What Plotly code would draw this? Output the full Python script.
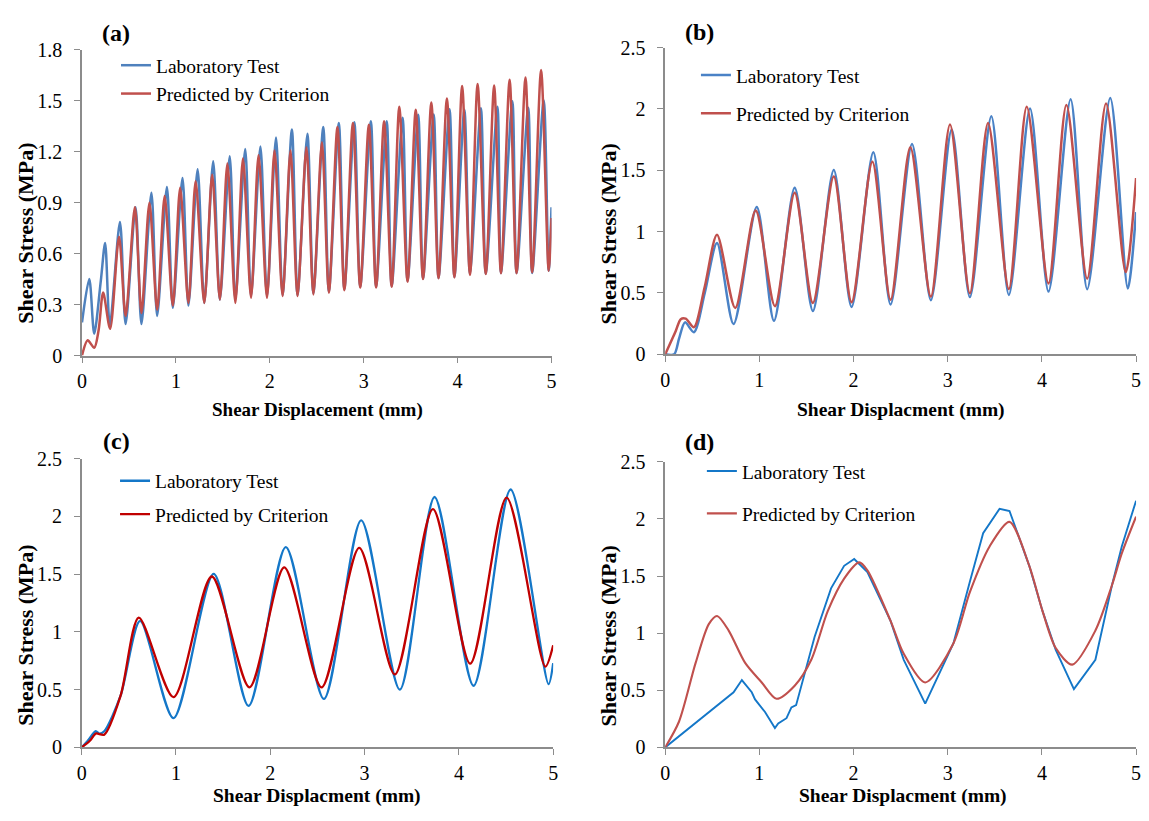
import plotly.graph_objects as go

# ---------------- data ----------------
# (a)
a_lab_x = [0.00, 0.077, 0.13, 0.20, 0.246, 0.296, 0.404, 0.464, 0.570, 0.633, 0.739, 0.800, 0.904, 0.967,
           1.070, 1.133, 1.231, 1.302, 1.397, 1.468, 1.573, 1.633, 1.738, 1.800, 1.900, 1.970, 2.066, 2.136,
           2.235, 2.295, 2.400, 2.464, 2.569, 2.629, 2.735, 2.794, 2.900, 2.963, 3.076, 3.132, 3.245, 3.298,
           3.414, 3.467, 3.580, 3.632, 3.745, 3.797, 3.914, 3.966, 4.072, 4.132, 4.248, 4.300, 4.424, 4.462,
           4.583, 4.628, 4.752, 4.794, 4.917, 4.970, 5.000]
a_lab_y = [0.195, 0.45, 0.128, 0.44, 0.663, 0.176, 0.787, 0.185, 0.873, 0.185, 0.959, 0.233, 0.992, 0.281,
           1.045, 0.294, 1.097, 0.31, 1.145, 0.329, 1.174, 0.329, 1.217, 0.35, 1.231, 0.35, 1.284, 0.357,
           1.332, 0.357, 1.307, 0.367, 1.346, 0.377, 1.37, 0.39, 1.374, 0.405, 1.38, 0.405, 1.38, 0.409,
           1.40, 0.44, 1.418, 0.453, 1.42, 0.457, 1.45, 0.463, 1.447, 0.482, 1.456, 0.482, 1.466, 0.486,
           1.498, 0.486, 1.46, 0.486, 1.504, 0.50, 0.873]
a_pred_x = [0.00, 0.06, 0.13, 0.176, 0.225, 0.299, 0.394, 0.464, 0.563, 0.633, 0.718, 0.80, 0.88, 0.967,
            1.045, 1.133, 1.21, 1.302, 1.386, 1.468, 1.548, 1.633, 1.714, 1.80, 1.88, 1.97, 2.05, 2.136,
            2.22, 2.295, 2.39, 2.464, 2.555, 2.629, 2.72, 2.794, 2.885, 2.963, 3.055, 3.132, 3.217, 3.298,
            3.379, 3.467, 3.554, 3.632, 3.72, 3.797, 3.886, 3.966, 4.048, 4.132, 4.213, 4.30, 4.389, 4.462,
            4.554, 4.628, 4.723, 4.794, 4.889, 4.97, 5.0]
a_pred_y = [0.0, 0.09, 0.046, 0.147, 0.371, 0.157, 0.70, 0.233, 0.873, 0.25, 0.90, 0.27, 0.94, 0.294,
            0.988, 0.31, 1.026, 0.31, 1.065, 0.33, 1.131, 0.31, 1.16, 0.34, 1.18, 0.34, 1.208, 0.35,
            1.208, 0.35, 1.227, 0.36, 1.256, 0.37, 1.346, 0.385, 1.37, 0.40, 1.36, 0.40, 1.38, 0.405,
            1.466, 0.435, 1.447, 0.45, 1.49, 0.455, 1.514, 0.46, 1.587, 0.475, 1.60, 0.48, 1.59, 0.485,
            1.624, 0.485, 1.638, 0.49, 1.682, 0.50, 0.81]

# (b)
b_lab_x = [0, 0.095, 0.147, 0.21, 0.305, 0.42, 0.55, 0.726, 0.972, 1.155, 1.375, 1.568, 1.79, 1.979, 2.21,
           2.393, 2.621, 2.821, 3.042, 3.235, 3.463, 3.649, 3.874, 4.07, 4.305, 4.481, 4.726, 4.912, 5.0]
b_lab_y = [0, 0, 0.127, 0.26, 0.18, 0.5, 0.907, 0.246, 1.2, 0.273, 1.357, 0.352, 1.503, 0.386, 1.648,
           0.405, 1.714, 0.44, 1.833, 0.466, 1.94, 0.484, 2.005, 0.511, 2.08, 0.53, 2.09, 0.537, 1.159]
b_pred_x = [0, 0.112, 0.165, 0.218, 0.305, 0.42, 0.55, 0.744, 0.961, 1.165, 1.375, 1.568, 1.79, 1.979, 2.2,
            2.393, 2.603, 2.821, 3.024, 3.235, 3.428, 3.649, 3.839, 4.07, 4.26, 4.481, 4.681, 4.89, 5.0]
b_pred_y = [0, 0.19, 0.286, 0.29, 0.22, 0.55, 0.974, 0.378, 1.172, 0.392, 1.317, 0.418, 1.45, 0.424, 1.569,
            0.444, 1.688, 0.47, 1.873, 0.497, 1.886, 0.532, 2.019, 0.577, 2.032, 0.617, 2.045, 0.67, 1.437]

# (c)
c_lab_x = [0, 0.063, 0.15, 0.185, 0.24, 0.414, 0.62, 0.974, 1.40, 1.77, 2.165, 2.569, 2.964, 3.374,
           3.742, 4.156, 4.548, 4.951, 5.0]
c_lab_y = [0, 0.056, 0.14, 0.12, 0.14, 0.45, 1.095, 0.253, 1.503, 0.36, 1.735, 0.42, 1.966, 0.50,
           2.168, 0.534, 2.233, 0.548, 0.73]
c_pred_x = [0, 0.09, 0.15, 0.24, 0.414, 0.606, 0.974, 1.38, 1.78, 2.148, 2.544, 2.943, 3.321, 3.725,
            4.12, 4.506, 4.916, 5.0]
c_pred_y = [0, 0.06, 0.12, 0.11, 0.45, 1.124, 0.435, 1.48, 0.52, 1.558, 0.52, 1.727, 0.632, 2.064,
            0.725, 2.163, 0.70, 0.885]

# (d)
d_lab_x = [0, 0.726, 0.814, 0.919, 0.954, 1.06, 1.165, 1.2, 1.288, 1.34, 1.39, 1.481, 1.586, 1.761, 1.90,
           2.007, 2.147, 2.393, 2.533, 2.761, 3.06, 3.235, 3.376, 3.551, 3.656, 3.866, 4.007, 4.147, 4.34,
           4.568, 4.744, 4.849, 5.0]
d_lab_y = [0, 0.483, 0.59, 0.483, 0.42, 0.31, 0.17, 0.21, 0.256, 0.35, 0.37, 0.654, 0.967, 1.393, 1.59,
           1.65, 1.535, 1.108, 0.767, 0.384, 0.91, 1.45, 1.876, 2.09, 2.07, 1.59, 1.193, 0.853, 0.511,
           0.767, 1.42, 1.762, 2.16]
d_pred_x = [0, 0.147, 0.323, 0.463, 0.551, 0.674, 0.849, 1.025, 1.182, 1.375, 1.551, 1.726, 1.90, 2.06,
            2.147, 2.393, 2.533, 2.761, 3.06, 3.235, 3.446, 3.656, 3.866, 4.007, 4.147, 4.323, 4.568,
            4.744, 4.849, 5.0]
d_pred_y = [0, 0.227, 0.74, 1.08, 1.151, 1.023, 0.74, 0.569, 0.426, 0.54, 0.767, 1.193, 1.478, 1.62,
            1.55, 1.108, 0.82, 0.569, 0.91, 1.36, 1.762, 1.975, 1.59, 1.193, 0.87, 0.725, 1.023,
            1.42, 1.70, 2.02]

series_names = ["Laboratory Test", "Predicted by Criterion"]
panel_labels = ["(a)", "(b)", "(c)", "(d)"]
x_titles = ["Shear Displacement (mm)", "Shear Displacment (mm)", "Shear Displacment (mm)", "Shear Displacment (mm)"]
y_title = "Shear Stress (MPa)"

# ---------------- figure ----------------
W, H = 1149, 821
def fx(px): return px / W
def fy(py): return 1 - py / H

SERIF = "Liberation Serif, Times New Roman, serif"

panels = [
    dict(lab=(a_lab_x, a_lab_y), pred=(a_pred_x, a_pred_y), dom=((77.7, 551.3), (40, 354)),
         yr=[0, 1.8], dt=0.3, colors=("#4f81bd", "#c0504d"), lw=(2.5, 2.5), shape=("spline", "spline"),
         leg=(112, 36), gap=0, xt=(315, 410, 19), yt=(21, 228), pl=(112, 23)),
    dict(lab=(b_lab_x, b_lab_y), pred=(b_pred_x, b_pred_y), dom=((666, 1141), (37.7, 352.7)),
         yr=[0, 2.5], dt=0.5, colors=("#4a82c6", "#c0504d"), lw=(2.5, 2.5), shape=("spline", "spline"),
         leg=(697, 46), gap=10, xt=(904, 410, 19.5), yt=(609, 229), pl=(701, 22)),
    dict(lab=(c_lab_x, c_lab_y), pred=(c_pred_x, c_pred_y), dom=((77.3, 553), (460, 756.7)),
         yr=[0, 2.5], dt=0.5, colors=("#1477c8", "#c00000"), lw=(2.3, 2.3), shape=("spline", "spline"),
         leg=(111, 463), gap=5, xt=(315, 807, 19.5), yt=(21, 641), pl=(112, 442)),
    dict(lab=(d_lab_x, d_lab_y), pred=(d_pred_x, d_pred_y), dom=((666, 1141), (463.3, 756.7)),
         yr=[0, 2.5], dt=0.5, colors=("#1477c8", "#c0504d"), lw=(1.9, 2.1), shape=("linear", "spline"),
         leg=(703, 453), gap=14, xt=(906, 807, 19.5), yt=(609, 642), pl=(701, 443)),
]

fig = go.Figure()
layout = dict(width=W, height=H, margin=dict(l=0, r=0, t=0, b=0), paper_bgcolor="white",
              plot_bgcolor="white", showlegend=True, font=dict(family=SERIF, color="black"))
annotations = []

for i, p in enumerate(panels):
    n = "" if i == 0 else str(i + 1)
    legname = "legend" if i == 0 else "legend" + str(i + 1)
    for j, (xs, ys) in enumerate((p["lab"], p["pred"])):
        fig.add_trace(go.Scatter(
            x=xs, y=ys, mode="lines", name=series_names[j],
            line=dict(color=p["colors"][j], width=p["lw"][j], shape=p["shape"][j], smoothing=0.8),
            xaxis="x" + n, yaxis="y" + n, legend=legname, legendgroup=f"g{i}{j}",
        ))
    (x0, x1), (ytop, ybot) = p["dom"]
    axis_common = dict(showline=True, linecolor="#8c8c8c", linewidth=1.5, ticks="outside", ticklen=6,
                       tickwidth=1.3, tickcolor="#8c8c8c", showgrid=False, zeroline=False,
                       tickfont=dict(family=SERIF, size=20, color="black"))
    layout["xaxis" + n] = dict(domain=[fx(x0), fx(x1)], range=[0, 5], dtick=1, tick0=0,
                               anchor="y" + n, ticklabelstandoff=1, **axis_common)
    layout["yaxis" + n] = dict(domain=[fy(ybot), fy(ytop)], range=p["yr"], dtick=p["dt"], tick0=0,
                               anchor="x" + n, ticklabelstandoff=8, **axis_common)
    layout[legname] = dict(x=fx(p["leg"][0]), y=fy(p["leg"][1]), xanchor="left", yanchor="top",
                           bgcolor="rgba(0,0,0,0)", tracegroupgap=p["gap"],
                           font=dict(family=SERIF, size=19.5, color="black"))
    annotations.append(dict(x=fx(p["xt"][0]), y=fy(p["xt"][1]), xref="paper", yref="paper",
                            text="<b>" + x_titles[i] + "</b>", showarrow=False,
                            font=dict(family=SERIF, size=p["xt"][2], color="black"),
                            xanchor="center", yanchor="middle"))
    annotations.append(dict(x=fx(p["yt"][0]), y=fy(p["yt"][1]), xref="paper", yref="paper",
                            text="<b>" + y_title + "</b>", showarrow=False, textangle=-90,
                            font=dict(family=SERIF, size=22, color="black"),
                            xanchor="center", yanchor="middle"))
    annotations.append(dict(x=fx(p["pl"][0]), y=fy(p["pl"][1]), xref="paper", yref="paper",
                            text="<b>" + panel_labels[i] + "</b>", showarrow=False,
                            font=dict(family=SERIF, size=24, color="black"),
                            xanchor="center", yanchor="middle"))

layout["annotations"] = annotations
fig.update_layout(**layout)
fig.write_html("out.html", config={"displayModeBar": False},
               post_script="document.body.style.margin='0';")
